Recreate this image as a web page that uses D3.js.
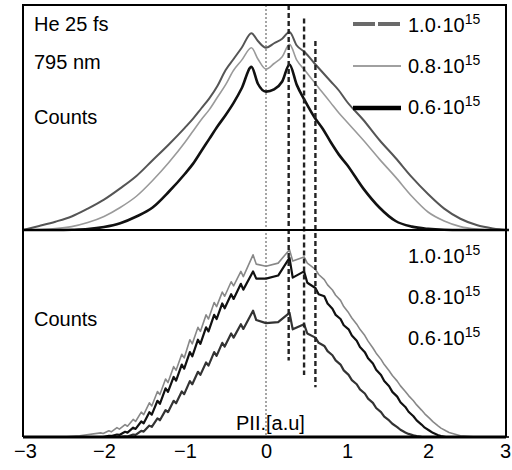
<!DOCTYPE html>
<html>
<head>
<meta charset="utf-8">
<script src="https://cdn.jsdelivr.net/npm/d3@7"></script>
<style>
    body { margin: 0; background: #fff; }
    text { font-family: "Liberation Sans", Arial, sans-serif; fill: #000; }
</style>
</head>
<body>
<div id="chart-area"></div>
<script>
// intensities (W/cm^2)
const intensities = ["1.0", "0.8", "0.6"];
const xTicks = [-3, -2, -1, 0, 1, 2, 3];

// top panel: momentum grid (a.u.) and counts for each intensity
const pTop = [-3.0, -2.8, -2.6, -2.4, -2.2, -2.0, -1.8, -1.6, -1.4, -1.2, -1.0, -0.9, -0.8, -0.7,
    -0.6, -0.5, -0.4, -0.3, -0.18, -0.1, 0.0, 0.1, 0.2, 0.29, 0.38, 0.48, 0.6, 0.7, 0.8, 0.9,
    1.0, 1.2, 1.4, 1.6, 1.8, 2.0, 2.2, 2.4, 2.6, 2.8, 3.0];
const top10 = [0.0, 0.018, 0.037, 0.06, 0.095, 0.135, 0.185, 0.24, 0.31, 0.38, 0.455, 0.495, 0.54, 0.585,
    0.64, 0.71, 0.76, 0.81, 0.875, 0.84, 0.81, 0.83, 0.85, 0.88, 0.82, 0.79, 0.74, 0.70, 0.66, 0.62,
    0.57, 0.49, 0.40, 0.32, 0.235, 0.16, 0.095, 0.05, 0.022, 0.007, 0.0];
const top08 = [0.0, 0.002, 0.006, 0.015, 0.033, 0.06, 0.10, 0.15, 0.22, 0.30, 0.39, 0.44, 0.49, 0.535,
    0.59, 0.645, 0.71, 0.755, 0.81, 0.76, 0.715, 0.74, 0.77, 0.825, 0.755, 0.71, 0.655, 0.61, 0.565, 0.52,
    0.48, 0.40, 0.315, 0.235, 0.15, 0.08, 0.04, 0.015, 0.004, 0.0, 0.0];
const top06 = [0.0, 0.0, 0.0, 0.001, 0.004, 0.013, 0.03, 0.06, 0.10, 0.17, 0.25, 0.295, 0.35, 0.405,
    0.46, 0.51, 0.565, 0.63, 0.725, 0.65, 0.615, 0.625, 0.66, 0.735, 0.645, 0.575, 0.50, 0.45, 0.39, 0.335,
    0.29, 0.185, 0.10, 0.04, 0.015, 0.005, 0.001, 0.0, 0.0, 0.0, 0.0];

// bottom panel: momentum grid (a.u.) and counts
const pBottom = [-3.0, -2.5, -2.3,
    -2.04, -2.01, -1.94, -1.91, -1.84, -1.81, -1.74, -1.71, -1.64, -1.61, -1.54, -1.51,
    -1.44, -1.41, -1.34, -1.31, -1.24, -1.21, -1.14, -1.11, -1.04, -1.01, -0.94, -0.91,
    -0.84, -0.81, -0.74, -0.71, -0.64, -0.61, -0.54, -0.51, -0.43, -0.40, -0.31, -0.28,
    -0.16, -0.12,
    0.0, 0.15,
    0.29, 0.33, 0.47, 0.51, 0.61, 0.65, 0.72, 0.76, 0.82, 0.86, 0.92, 0.96,
    1.02, 1.06, 1.12, 1.16, 1.22, 1.26, 1.32, 1.36, 1.42, 1.46, 1.52, 1.56,
    1.62, 1.66, 1.72, 1.76, 1.82, 1.86, 1.92, 1.96, 2.02, 2.06, 2.12, 2.16,
    2.22, 2.26,
    2.4, 2.6, 3.0];
const bot10 = [0.0, 0.0, 0.006,
    0.02, 0.017, 0.03, 0.025, 0.045, 0.038, 0.06, 0.052, 0.085, 0.075, 0.12, 0.108,
    0.165, 0.15, 0.22, 0.205, 0.28, 0.263, 0.34, 0.322, 0.40, 0.382, 0.47, 0.45,
    0.53, 0.51, 0.59, 0.57, 0.65, 0.63, 0.70, 0.68, 0.75, 0.73, 0.80, 0.775,
    0.88, 0.835,
    0.825, 0.84,
    0.905, 0.85, 0.87, 0.84, 0.81, 0.785, 0.76, 0.735, 0.71, 0.685, 0.66, 0.63,
    0.60, 0.575, 0.545, 0.52, 0.49, 0.463, 0.43, 0.405, 0.375, 0.35, 0.32, 0.297,
    0.27, 0.247, 0.22, 0.20, 0.175, 0.155, 0.13, 0.112, 0.09, 0.074, 0.055, 0.043,
    0.03, 0.022,
    0.006, 0.0, 0.0];
const bot08 = [0.0, 0.0, 0.0,
    0.0, 0.0, 0.006, 0.005, 0.012, 0.01, 0.025, 0.021, 0.045, 0.039, 0.075, 0.066,
    0.12, 0.108, 0.175, 0.16, 0.235, 0.218, 0.29, 0.272, 0.35, 0.33, 0.41, 0.39,
    0.47, 0.45, 0.53, 0.51, 0.59, 0.57, 0.645, 0.622, 0.69, 0.667, 0.74, 0.712,
    0.80, 0.765,
    0.765, 0.78,
    0.865, 0.77, 0.80, 0.745, 0.72, 0.69, 0.68, 0.645, 0.62, 0.59, 0.57, 0.54,
    0.52, 0.49, 0.465, 0.435, 0.41, 0.38, 0.355, 0.325, 0.30, 0.27, 0.245, 0.218,
    0.195, 0.168, 0.145, 0.122, 0.10, 0.08, 0.06, 0.045, 0.03, 0.02, 0.01, 0.005,
    0.0, 0.0,
    0.0, 0.0, 0.0];
const bot06 = [0.0, 0.0, 0.0,
    0.0, 0.0, 0.0, 0.0, 0.0, 0.0, 0.003, 0.002, 0.012, 0.01, 0.03, 0.026,
    0.055, 0.049, 0.09, 0.081, 0.13, 0.12, 0.175, 0.163, 0.22, 0.207, 0.27, 0.255,
    0.315, 0.30, 0.36, 0.345, 0.41, 0.392, 0.455, 0.437, 0.50, 0.48, 0.545, 0.522,
    0.61, 0.565,
    0.55, 0.555,
    0.60, 0.52, 0.545, 0.50, 0.48, 0.455, 0.44, 0.415, 0.395, 0.37, 0.35, 0.322,
    0.30, 0.275, 0.255, 0.23, 0.21, 0.185, 0.165, 0.14, 0.12, 0.098, 0.08, 0.064,
    0.048, 0.035, 0.022, 0.015, 0.008, 0.004, 0.001, 0.0, 0.0, 0.0, 0.0, 0.0,
    0.0, 0.0,
    0.0, 0.0, 0.0];

// peak markers (a.u.) with start (top panel) and end (bottom panel) levels
const markP = [0.28, 0.47, 0.61];
const markTop = [1.0, 0.94, 0.84];
const markBot = [0.37, 0.30, 0.24];

const width = 512;
const height = 470;

const svg = d3.select('#chart-area')
    .append('svg')
    .attr('width', width)
    .attr('height', height);

const x = d3.scaleLinear().domain([-3, 3]).range([23, 509]);
const yTop = d3.scaleLinear().domain([0, 1]).range([230, 5]);
const yBot = d3.scaleLinear().domain([0, 1]).range([437, 230]);

const left = 23, right = 506;

// zero line (dotted)
svg.append('line')
    .attr('x1', x(0)).attr('x2', x(0))
    .attr('y1', yTop(1)).attr('y2', yBot(0))
    .attr('stroke', '#888')
    .attr('stroke-width', 1.5)
    .attr('stroke-dasharray', '2,2');

// top panel curves
const lineTop = d3.line()
    .x((d, i) => x(pTop[i]))
    .y(d => yTop(d))
    .curve(d3.curveMonotoneX);
const topStyles = [
    { data: top10, color: '#555', w: 2 },
    { data: top08, color: '#9a9a9a', w: 1.6 },
    { data: top06, color: '#111', w: 2.6 }
];
topStyles.forEach(s => {
    svg.append('path')
        .attr('d', lineTop(s.data))
        .attr('fill', 'none')
        .attr('stroke', s.color)
        .attr('stroke-width', s.w)
        .attr('stroke-linejoin', 'round');
});

// bottom panel curves
const lineBot = d3.line().x((d, i) => x(pBottom[i])).y(d => yBot(d));
const botStyles = [
    { data: bot10, color: '#888', w: 1.6 },
    { data: bot08, color: '#111', w: 2.2 },
    { data: bot06, color: '#333', w: 2.2 }
];
botStyles.forEach(s => {
    svg.append('path')
        .attr('d', lineBot(s.data))
        .attr('fill', 'none')
        .attr('stroke', s.color)
        .attr('stroke-width', s.w)
        .attr('stroke-linejoin', 'round');
});

// dashed peak markers
svg.selectAll('.mark')
    .data(markP)
    .enter()
    .append('line')
    .attr('class', 'mark')
    .attr('x1', d => x(d)).attr('x2', d => x(d))
    .attr('y1', (d, i) => yTop(markTop[i]))
    .attr('y2', (d, i) => yBot(markBot[i]))
    .attr('stroke', '#222')
    .attr('stroke-width', 2.4)
    .attr('stroke-dasharray', '5,3');

// frame
svg.append('path')
    .attr('d', `M${left},${yBot(0)} V${yTop(1)} H${right} V${yBot(0)}`)
    .attr('fill', 'none')
    .attr('stroke', '#000')
    .attr('stroke-width', 2);
svg.append('line')
    .attr('x1', left).attr('x2', right)
    .attr('y1', yTop(0)).attr('y2', yTop(0))
    .attr('stroke', '#000').attr('stroke-width', 2);
svg.append('line')
    .attr('x1', left).attr('x2', right)
    .attr('y1', yBot(0)).attr('y2', yBot(0))
    .attr('stroke', '#000').attr('stroke-width', 3);

// x axis
const xAxis = d3.axisBottom(x)
    .tickValues(xTicks)
    .tickSize(0)
    .tickPadding(7)
    .tickFormat(d => d < 0 ? '\u2212' + Math.abs(d) : d);
const axisG = svg.append('g')
    .attr('transform', `translate(0, ${yBot(0)})`)
    .call(xAxis);
axisG.select('.domain').remove();
axisG.selectAll('text')
    .attr('font-size', 20)
    .attr('font-family', '"Liberation Sans", Arial, sans-serif')
    .attr('fill', '#000')
    .attr('dx', d => d === 3 ? -4 : (d === -3 ? 2 : 0));

// labels
const labels = [
    { t: 'He 25 fs', x: 34, y: 31 },
    { t: '795 nm', x: 34, y: 69 },
    { t: 'Counts', x: 34, y: 124 },
    { t: 'Counts', x: 34, y: 326 },
    { t: 'PII.[a.u]', x: 236, y: 430 }
];
labels.forEach(l => {
    svg.append('text')
        .attr('x', l.x)
        .attr('y', l.y)
        .attr('font-size', 20)
        .text(l.t);
});

// legend (top panel)
const legendLines = [
    { y: 24, color: '#6a6a6a', w: 4, dash: '22,3' },
    { y: 66, color: '#a0a0a0', w: 2.2, dash: null },
    { y: 108, color: '#000', w: 4.5, dash: null }
];
legendLines.forEach(l => {
    svg.append('line')
        .attr('x1', 353).attr('x2', 401)
        .attr('y1', l.y).attr('y2', l.y)
        .attr('stroke', l.color)
        .attr('stroke-width', l.w)
        .attr('stroke-dasharray', l.dash);
});

function intensityLabel(v, xPos, yPos) {
    const t = svg.append('text')
        .attr('x', xPos)
        .attr('y', yPos)
        .attr('font-size', 20);
    t.append('tspan').text(v + '\u00b710');
    t.append('tspan')
        .attr('dy', -8)
        .attr('font-size', 14)
        .text('15');
}
const legendTopY = [32, 73, 114];
const legendBotY = [263, 304, 345];
intensities.forEach((v, i) => {
    intensityLabel(v, 408, legendTopY[i]);
    intensityLabel(v, 408, legendBotY[i]);
});
</script>
</body>
</html>
